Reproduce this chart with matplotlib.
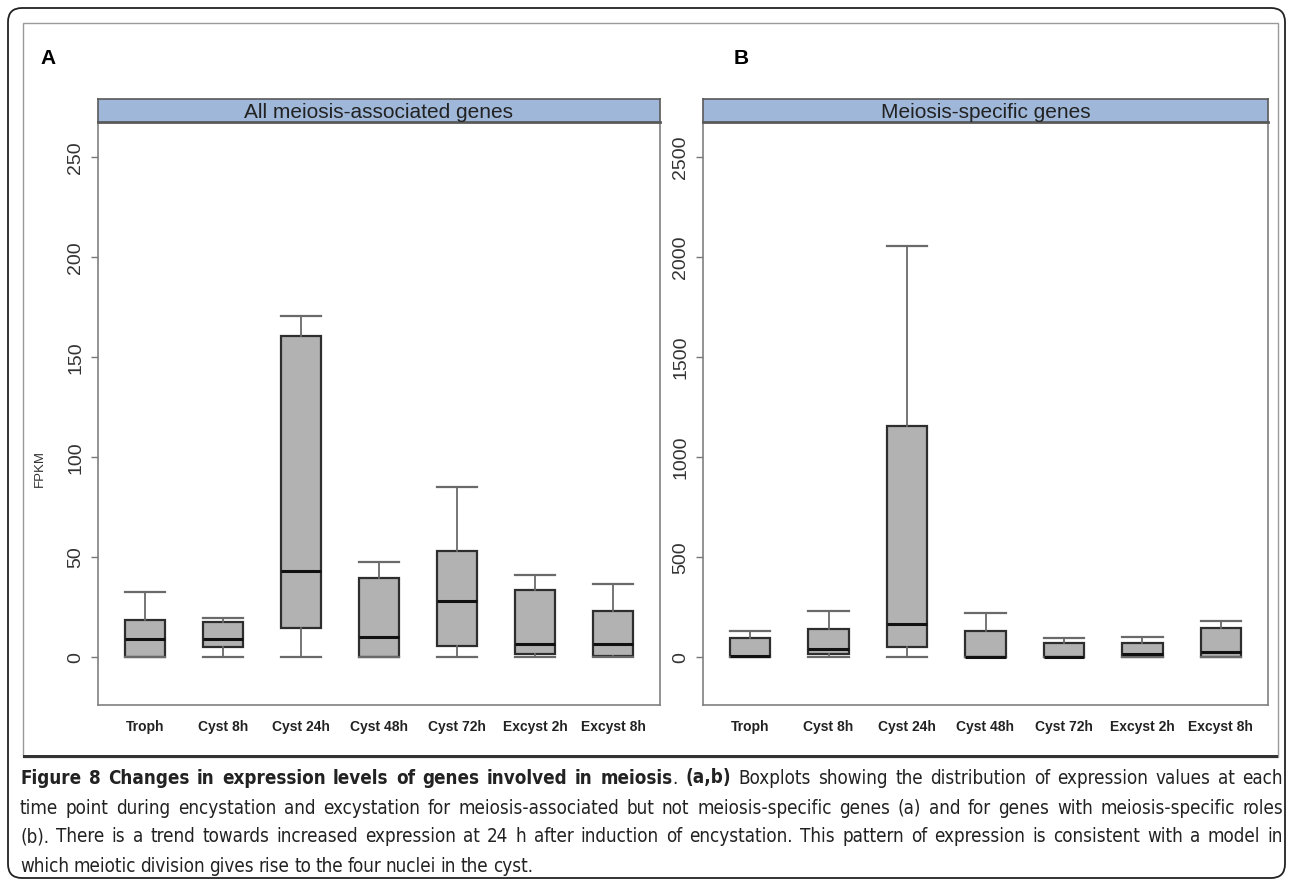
import matplotlib
matplotlib.use("Agg")
import matplotlib.pyplot as plt
from matplotlib.patches import FancyBboxPatch, Rectangle
from matplotlib.transforms import IdentityTransform

W, H = 1290, 882

# ---- data ----
stages = ["Troph", "Cyst 8h", "Cyst 24h", "Cyst 48h", "Cyst 72h", "Excyst 2h", "Excyst 8h"]

# panel A: all meiosis-associated genes (FPKM)
a_low = [0, 0, 0, 0, 0, 0, 0]
a_q1 = [0, 5.2, 14.7, 0.3, 5.8, 1.8, 0.5]
a_med = [8.9, 9.3, 43, 10.2, 28.2, 6.8, 6.8]
a_q3 = [18.5, 17.5, 160.5, 39.5, 53, 33.5, 23]
a_high = [32.5, 19.7, 170.8, 47.8, 85.2, 41.3, 36.7]

# panel B: meiosis-specific genes (FPKM)
b_low = [0, 0, 0, 0, 0, 0, 0]
b_q1 = [0, 17, 52, 0, 0, 3, 2]
b_med = [4, 42, 164, 2, 3, 14, 25]
b_q3 = [94, 139, 1155, 130, 72, 72, 147]
b_high = [130, 230, 2058, 219, 94, 100, 179]

a_ticks = [0, 50, 100, 150, 200, 250]
b_ticks = [0, 500, 1000, 1500, 2000, 2500]

caption = [
    "Figure 8 Changes in expression levels of genes involved in meiosis. (a,b) Boxplots showing the distribution of expression values at each",
    "time point during encystation and excystation for meiosis-associated but not meiosis-specific genes (a) and for genes with meiosis-specific roles",
    "(b). There is a trend towards increased expression at 24 h after induction of encystation. This pattern of expression is consistent with a model in",
    "which meiotic division gives rise to the four nuclei in the cyst.",
]
bold_words = 11  # first words of line 1 in bold


def px(x0, y0, x1, y1):
    return [x0 / W, 1 - y1 / H, (x1 - x0) / W, (y1 - y0) / H]


fig = plt.figure(figsize=(W / 100, H / 100), dpi=100)

# outer rounded frame and inner image frame (pixel coordinates)
fig.patches.append(FancyBboxPatch((8, H - 878), 1277, 870, boxstyle="round,pad=0,rounding_size=14",
                                  transform=IdentityTransform(), fill=False, ec="#222222", lw=1.3))
fig.patches.append(Rectangle((23, H - 757), 1255, 734, transform=IdentityTransform(),
                             fill=False, ec="#9a9a9a", lw=1))
fig.patches.append(Rectangle((23, H - 758), 1255, 3, transform=IdentityTransform(),
                             fc="#333333", ec="none"))

fig.text(48 / W, 1 - 58 / H, "A", fontsize=15, fontweight="bold", ha="center", va="center",
         family="Liberation Sans")
fig.text(741 / W, 1 - 58 / H, "B", fontsize=15, fontweight="bold", ha="center", va="center",
         family="Liberation Sans")


def panel(rect, strip_title, low, q1, med, q3, high, ticks, ylim):
    x0, x1 = rect
    ax = fig.add_axes(px(x0, 122, x1, 705))
    stats = []
    for i in range(len(stages)):
        stats.append(dict(whislo=low[i], q1=q1[i], med=med[i], q3=q3[i], whishi=high[i],
                          fliers=[], label=stages[i]))
    ax.bxp(stats, positions=range(1, len(stages) + 1), widths=0.52, patch_artist=True,
           showfliers=False,
           boxprops=dict(facecolor="#b2b2b2", edgecolor="#2e2e2e", linewidth=1.6),
           medianprops=dict(color="#111111", linewidth=2.2),
           whiskerprops=dict(color="#6a6a6a", linewidth=1.3),
           capprops=dict(color="#6a6a6a", linewidth=1.6), capwidths=0.52)
    ax.set_xlim(0.4, 7.6)
    ax.set_ylim(*ylim)
    ax.set_yticks(ticks)
    ax.set_yticklabels([str(t) for t in ticks], rotation=90, va="center",
                       fontsize=14, family="Liberation Sans", color="#333333")
    ax.set_xticks(range(1, len(stages) + 1))
    ax.set_xticklabels(stages, fontsize=10, fontweight="bold", family="Liberation Sans",
                       color="#222222")
    ax.tick_params(axis="x", length=0, pad=11)
    ax.tick_params(axis="y", length=5, width=1, color="#777777", pad=5)
    for s in ax.spines.values():
        s.set_color("#808080")
        s.set_linewidth(1.2)

    st = fig.add_axes(px(x0, 99, x1, 122))
    st.set_facecolor("#9fb7d8")
    st.set_xticks([])
    st.set_yticks([])
    for s in st.spines.values():
        s.set_color("#5a5a5a")
        s.set_linewidth(1.2)
    st.spines["bottom"].set_linewidth(2)
    st.text(0.5, 0.42, strip_title, ha="center", va="center", fontsize=15,
            family="Liberation Sans", color="#222222", transform=st.transAxes)
    return ax


axA = panel((98, 660), "All meiosis-associated genes", a_low, a_q1, a_med, a_q3, a_high,
            a_ticks, (-23.9, 267.7))
axB = panel((703, 1268), "Meiosis-specific genes", b_low, b_q1, b_med, b_q3, b_high,
            b_ticks, (-239, 2677))
fig.text(40 / W, 1 - 468 / H, "FPKM", rotation=90, fontsize=9.5, ha="center", va="center",
         family="Liberation Sans", color="#333333")

# ---- caption, justified word by word ----
renderer = fig.canvas.get_renderer()
left, right = 20, 1283
line_y = [778, 808, 837, 866]
for li, line in enumerate(caption):
    tokens = []
    for wi, w in enumerate(line.split(" ")):
        if li == 0 and wi < bold_words:
            if w.endswith("."):
                tokens.append((w[:-1], "bold", False))
                tokens.append((".", "normal", True))
            else:
                tokens.append((w, "bold", False))
        elif li == 0 and w == "(a,b)":
            tokens.append((w, "bold", False))
        else:
            tokens.append((w, "normal", False))
    texts = []
    for t, wt, glue in tokens:
        tx = fig.text(0, 1 - line_y[li] / H, t, fontsize=13.5, fontweight=wt,
                      family="DejaVu Sans", fontstretch="condensed",
                      va="center", ha="left", color="#222222")
        texts.append((tx, glue))
    widths = [tx.get_window_extent(renderer).width for tx, g in texts]
    n_gaps = sum(1 for tx, g in texts[1:] if not g)
    if li < len(caption) - 1:
        gap = (right - left - sum(widths)) / max(n_gaps, 1)
    else:
        gap = 4.5
    x = left
    for (tx, glue), w in zip(texts, widths):
        if glue:
            x -= gap
        tx.set_x(x / W)
        x += w + gap

fig.savefig("out.png", dpi=100)
